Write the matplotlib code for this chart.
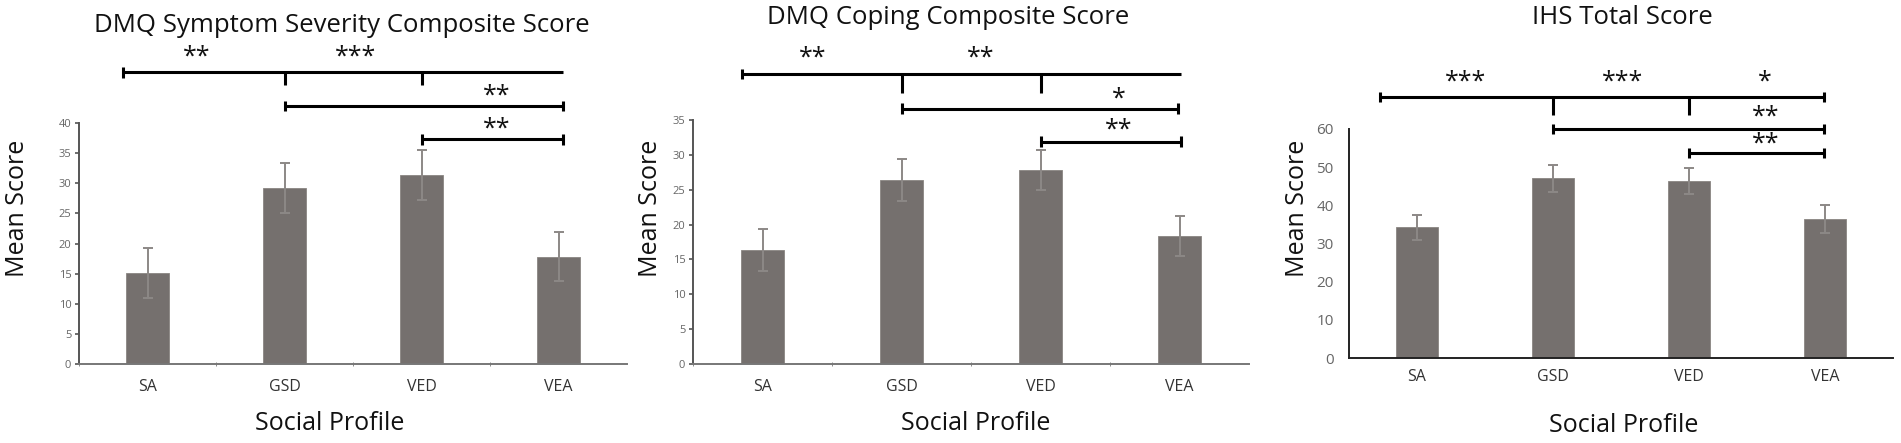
import numpy as np
import matplotlib.pyplot as plt

plt.rcParams['font.family'] = ['Open Sans', 'DejaVu Sans']

categories = ['SA', 'GSD', 'VED', 'VEA']

# DMQ symptom severity
sev_mean = [15.1, 29.2, 31.4, 17.8]
sev_err = [4.1, 4.1, 4.1, 4.1]
# DMQ coping
cop_mean = [16.4, 26.4, 27.8, 18.4]
cop_err = [3.0, 3.0, 2.9, 2.9]
# IHS total
ihs_mean = [34.2, 47.1, 46.4, 36.4]
ihs_err = [3.3, 3.5, 3.5, 3.6]

titles = ['DMQ Symptom Severity Composite Score', 'DMQ Coping Composite Score', 'IHS Total Score']
ymax = [40, 35, 60]
ystep = [5, 5, 10]

# significance brackets and stars, in data units
sig_sets = [
    {'top': (-0.18, 3.03, 48.4), 'drops': ([1, 2], 46.3), 'cap_right_top': False,
     'lines': [(1, 3.03, 42.8), (2, 3.03, 37.3)],
     'stars': [(0.36, 50.9, '**'), (1.52, 50.9, '***'), (2.55, 44.4, '**'), (2.55, 39.0, '**')]},
    {'top': (-0.15, 3.01, 41.6), 'drops': ([1, 2], 38.9), 'cap_right_top': False,
     'lines': [(1, 2.99, 36.6), (2, 3.01, 31.9)],
     'stars': [(0.36, 43.9, '**'), (1.57, 43.9, '**'), (2.56, 38.0, '*'), (2.56, 33.6, '**')]},
    {'top': (-0.27, 2.99, 68.3), 'drops': ([1, 2], 63.6), 'cap_right_top': True,
     'lines': [(1, 2.99, 59.9), (2, 2.99, 53.7)],
     'stars': [(0.36, 72.3, '***'), (1.51, 72.3, '***'), (2.56, 72.3, '*'), (2.56, 63.1, '**'), (2.56, 56.0, '**')]},
]

fig = plt.figure(figsize=(19.01, 4.43), dpi=100)
W, H = 1901, 443
boxes = [(79, 627, 364, 123), (693, 1249, 364, 120), (1349, 1893, 358, 129)]
title_pos = [(342, 25), (948, 18), (1622, 18)]
xlab_pos = [(330, 424), (976, 424), (1624, 425)]
ylab_pos = [(18, 208), (650, 208), (1297, 208)]

bar_color = '#75706e'
data = [(sev_mean, sev_err), (cop_mean, cop_err), (ihs_mean, ihs_err)]

for i, (means, errs) in enumerate(data):
    l, r, b, t = boxes[i]
    ax = fig.add_axes([l / W, 1 - b / H, (r - l) / W, (b - t) / H])
    x = np.arange(len(categories))
    ax.bar(x, means, width=0.31, color=bar_color, edgecolor='#8a8582', linewidth=0.6)
    ax.errorbar(x, means, yerr=errs, fmt='none', ecolor='#8c8886', elinewidth=1.4, capsize=3.5, capthick=1.4)
    ax.set_xlim(-0.5, 3.5)
    ax.set_ylim(0, ymax[i])
    ax.set_yticks(np.arange(0, ymax[i] + 1, ystep[i]))
    ax.set_xticks(x)
    ax.set_xticklabels(categories)
    for s in ['top', 'right']:
        ax.spines[s].set_visible(False)
    ax.spines['left'].set_linewidth(1.4)
    ax.spines['bottom'].set_linewidth(1.4)
    if i < 2:
        ax.spines['left'].set_color('#555555')
        ax.spines['bottom'].set_color('#777777')
        ax.tick_params(axis='y', length=3, width=1.2, color='#555555', labelsize=8, labelcolor='#666666', pad=2.5)
        ax.tick_params(axis='x', length=0, labelsize=11.5, labelcolor='#333333', pad=11)
        ax.set_xticks([-0.5, 0.5, 1.5, 2.5], minor=True)
        ax.tick_params(axis='x', which='minor', length=3, direction='inout', color='#777777')
    else:
        ax.spines['left'].set_color('#222222')
        ax.spines['bottom'].set_color('#222222')
        ax.tick_params(axis='y', length=0, labelsize=11, labelcolor='#666666', pad=11)
        ax.tick_params(axis='x', length=0, labelsize=11.5, labelcolor='#333333', pad=8)

    sg = sig_sets[i]
    kw = dict(color='black', linewidth=2.2, clip_on=False, solid_capstyle='butt')
    cap = ymax[i] * 0.022
    x0, x1, yt = sg['top']
    ax.plot([x0, x1], [yt, yt], **kw)
    ax.plot([x0, x0], [yt - cap, yt + cap], **kw)
    if sg['cap_right_top']:
        ax.plot([x1, x1], [yt - cap, yt + cap], **kw)
    for xd in sg['drops'][0]:
        ax.plot([xd, xd], [yt, sg['drops'][1]], **kw)
    for (a, c, yy) in sg['lines']:
        ax.plot([a, c], [yy, yy], **kw)
        ax.plot([a, a], [yy - cap, yy + cap], **kw)
        ax.plot([c, c], [yy - cap, yy + cap], **kw)
    for (xs, ys, txt) in sg['stars']:
        ax.text(xs, ys, txt, ha='center', va='center', fontsize=18, color='#111111', clip_on=False)

    fig.text(title_pos[i][0] / W, 1 - title_pos[i][1] / H, titles[i], ha='center', va='center',
             fontsize=18.5, color='#111111')
    fig.text(xlab_pos[i][0] / W, 1 - xlab_pos[i][1] / H, 'Social Profile', ha='center', va='center',
             fontsize=18, color='#111111')
    fig.text(ylab_pos[i][0] / W, 1 - ylab_pos[i][1] / H, 'Mean Score', ha='center', va='center',
             rotation=90, fontsize=18, color='#111111')

fig.savefig('out.png', dpi=100)
